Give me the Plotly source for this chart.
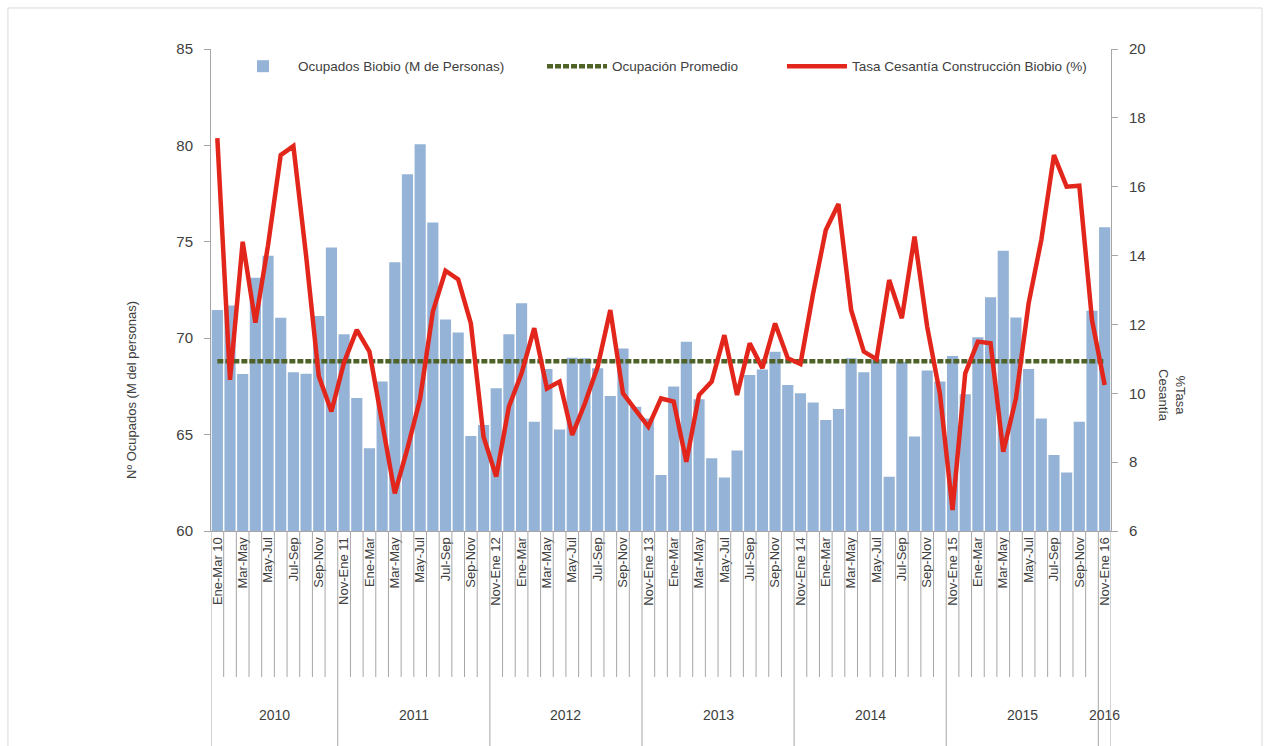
import plotly.graph_objects as go

# ---------------- data ----------------
periodos = [
    "Ene-Mar 10", "Feb-Abr", "Mar-May", "Abr-Jun", "May-Jul", "Jun-Ago", "Jul-Sep", "Ago-Oct", "Sep-Nov", "Oct-Dic",
    "Nov-Ene 11", "Dic-Feb", "Ene-Mar", "Feb-Abr", "Mar-May", "Abr-Jun", "May-Jul", "Jun-Ago", "Jul-Sep", "Ago-Oct", "Sep-Nov", "Oct-Dic",
    "Nov-Ene 12", "Dic-Feb", "Ene-Mar", "Feb-Abr", "Mar-May", "Abr-Jun", "May-Jul", "Jun-Ago", "Jul-Sep", "Ago-Oct", "Sep-Nov", "Oct-Dic",
    "Nov-Ene 13", "Dic-Feb", "Ene-Mar", "Feb-Abr", "Mar-May", "Abr-Jun", "May-Jul", "Jun-Ago", "Jul-Sep", "Ago-Oct", "Sep-Nov", "Oct-Dic",
    "Nov-Ene 14", "Dic-Feb", "Ene-Mar", "Feb-Abr", "Mar-May", "Abr-Jun", "May-Jul", "Jun-Ago", "Jul-Sep", "Ago-Oct", "Sep-Nov", "Oct-Dic",
    "Nov-Ene 15", "Dic-Feb", "Ene-Mar", "Feb-Abr", "Mar-May", "Abr-Jun", "May-Jul", "Jun-Ago", "Jul-Sep", "Ago-Oct", "Sep-Nov", "Oct-Dic",
    "Nov-Ene 16",
]
anios = ["2010", "2011", "2012", "2013", "2014", "2015", "2016"]
periodos_por_anio = [10, 12, 12, 12, 12, 12, 1]

ocupados = [
    71.46, 71.69, 68.14, 73.14, 74.28, 71.06, 68.23, 68.16, 71.15, 74.70,
    70.20, 66.90, 64.29, 67.75, 73.94, 78.50, 80.06, 76.00, 70.97, 70.30,
    64.93, 65.50, 67.40, 70.20, 71.81, 65.67, 68.40, 65.27, 68.99, 68.96,
    68.44, 67.00, 69.47, 66.45, 65.84, 62.90, 67.49, 69.82, 66.83, 63.77,
    62.77, 64.17, 68.09, 68.38, 69.30, 67.57, 67.14, 66.66, 65.76, 66.33,
    68.96, 68.23, 68.90, 62.82, 68.78, 64.90, 68.32, 67.75, 69.08, 67.09,
    70.05, 72.12, 74.54, 71.08, 68.40, 65.84, 63.94, 63.04, 65.67, 71.43,
    75.75,
]
tasa_cesantia = [
    17.41, 10.39, 14.40, 12.05, 14.30, 16.92, 17.18, 14.00, 10.50, 9.47,
    10.90, 11.84, 11.21, 9.13, 7.09, 8.40, 9.85, 12.37, 13.56, 13.31,
    12.03, 8.74, 7.58, 9.61, 10.58, 11.89, 10.14, 10.34, 8.79, 9.71,
    10.77, 12.42, 10.00, 9.51, 9.03, 9.85, 9.76, 8.01, 9.95, 10.34,
    11.69, 9.95, 11.45, 10.73, 12.03, 11.02, 10.85, 12.90, 14.74, 15.50,
    12.42, 11.21, 10.99, 13.29, 12.18, 14.55, 11.93, 10.00, 6.61, 10.58,
    11.50, 11.45, 8.30, 9.85, 12.61, 14.45, 16.92, 16.00, 16.03, 12.13,
    10.24,
]
ocupacion_promedio = 68.8

# ---------------- figure ----------------
FONT = "Liberation Sans"
GRAY = "#A6A6A6"
TXT = "#404040"

x = list(range(len(periodos)))

fig = go.Figure()
fig.add_trace(go.Bar(
    x=x, y=ocupados, name="Ocupados Biobio (M de Personas)",
    marker=dict(color="#95B3D7", line=dict(width=0)), yaxis="y", legend="legend",
))
fig.add_trace(go.Scatter(
    x=x, y=[ocupacion_promedio] * len(x), name="Ocupación Promedio",
    mode="lines", line=dict(color="#4F6228", width=4.5, dash="6px,2px"), yaxis="y",
    legend="legend2",
))
fig.add_trace(go.Scatter(
    x=x, y=tasa_cesantia, name="Tasa Cesantía Construcción Biobio (%)",
    mode="lines", line=dict(color="#E3261B", width=4.5), yaxis="y2", legend="legend3",
))

# category separators and year separators
shapes = []
limites = [-0.5]
for n in periodos_por_anio:
    limites.append(limites[-1] + n)
for i in range(len(periodos) + 1):
    xs = i - 0.5
    largo = xs in limites
    shapes.append(dict(type="line", xref="x", yref="paper", x0=xs, x1=xs,
                       y0=0, y1=-0.48 if largo else -0.303,
                       line=dict(color=GRAY, width=1)))
# outer frame
shapes.append(dict(type="rect", xref="paper", yref="paper",
                   x0=-0.2256, x1=1.1678, y0=-0.5, y1=1.0851,
                   line=dict(color="#D9D9D9", width=1), layer="below"))

annotations = []
for k, anio in enumerate(anios):
    centro = (limites[k] + limites[k + 1]) / 2
    annotations.append(dict(x=centro, xref="x", y=-0.3817, yref="paper", text=anio,
                            xanchor="center", yanchor="middle", showarrow=False,
                            font=dict(family=FONT, size=14, color=TXT)))
annotations.append(dict(x=-0.0889, xref="paper", y=0.2925, yref="paper",
                        xanchor="center", yanchor="middle",
                        text="Nº Ocupados (M del personas)", textangle=-90, showarrow=False,
                        font=dict(family=FONT, size=13, color=TXT)))
annotations.append(dict(x=1.0678, xref="paper", y=0.282, yref="paper",
                        xanchor="center", yanchor="middle",
                        text="%Tasa<br>Cesantía", textangle=90, showarrow=False,
                        font=dict(family=FONT, size=13, color=TXT)))

def leyenda(xpos):
    return dict(orientation="h", x=xpos, y=0.996, xanchor="left", yanchor="top",
                bgcolor="rgba(0,0,0,0)", font=dict(family=FONT, size=13.5, color=TXT),
                itemwidth=60)

fig.update_layout(
    width=1267, height=746, autosize=False,
    margin=dict(l=211, r=156, t=49, b=215),
    paper_bgcolor="white", plot_bgcolor="white",
    font=dict(family=FONT, color=TXT),
    bargap=0.12,
    showlegend=True,
    legend=leyenda(0.0189),
    legend2=leyenda(0.3678),
    legend3=leyenda(0.6344),
    xaxis=dict(range=[-0.5, len(periodos) - 0.5], tickmode="array",
               tickvals=x[::2], ticktext=periodos[::2], tickangle=-90,
               ticks="", showgrid=False, zeroline=False,
               showline=True, linecolor=GRAY, linewidth=1,
               tickfont=dict(family=FONT, size=13, color=TXT)),
    yaxis=dict(range=[60, 85], dtick=5, showgrid=False, zeroline=False,
               showline=True, linecolor=GRAY, linewidth=1,
               ticks="outside", ticklen=6, tickcolor=GRAY, ticklabelstandoff=8,
               tickfont=dict(family=FONT, size=15, color=TXT)),
    yaxis2=dict(range=[6, 20], dtick=2, overlaying="y", side="right",
                showgrid=False, zeroline=False,
                showline=True, linecolor=GRAY, linewidth=1,
                ticks="outside", ticklen=6, tickcolor=GRAY, ticklabelstandoff=8,
                tickfont=dict(family=FONT, size=15, color=TXT)),
    shapes=shapes,
    annotations=annotations,
)

fig.write_html("out.html", config={"displayModeBar": False},
               post_script="document.body.style.margin='0px';")
